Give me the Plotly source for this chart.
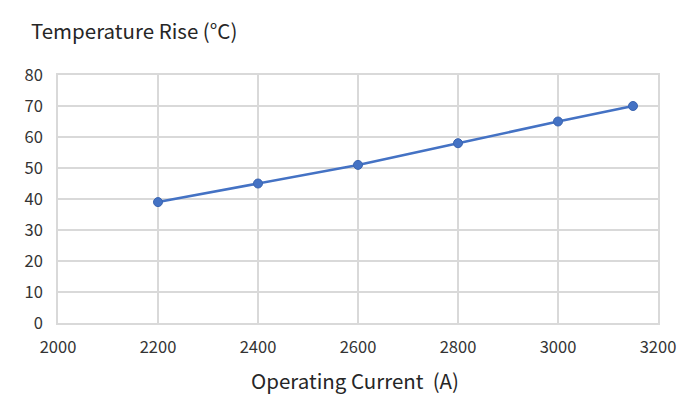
import plotly.graph_objects as go

current = [2200, 2400, 2600, 2800, 3000, 3150]
temp_rise = [39, 45, 51, 58, 65, 70]
x_ticks = [2000, 2200, 2400, 2600, 2800, 3000, 3200]
y_ticks = [0, 10, 20, 30, 40, 50, 60, 70, 80]

FONT = "Noto Sans CJK SC, Noto Sans, sans-serif"
fig = go.Figure()
fig.add_trace(go.Scatter(
    x=current, y=temp_rise, mode="lines+markers",
    line=dict(color="#4472C4", width=2.5),
    marker=dict(color="#4472C4", size=9, line=dict(color="#3A64B0", width=1)),
    showlegend=False,
))
fig.update_layout(
    width=700, height=400,
    margin=dict(l=58, r=42, t=75, b=77),
    paper_bgcolor="white", plot_bgcolor="white",
    font=dict(family=FONT, color="#404040", size=15),
    xaxis=dict(range=[2000, 3200], tickvals=x_ticks, showgrid=True,
               gridcolor="#D9D9D9", gridwidth=1.5, zeroline=False,
               showline=True, linecolor="#D9D9D9", linewidth=1.5, mirror=True,
               ticks="", ticklabelstandoff=8,
               tickfont=dict(size=16.5, color="#333333")),
    yaxis=dict(range=[0, 80], tickvals=y_ticks, showgrid=True,
               gridcolor="#D9D9D9", gridwidth=1.5, zeroline=False,
               showline=True, linecolor="#D9D9D9", linewidth=1.5, mirror=True,
               ticks="", ticklabelstandoff=10,
               tickfont=dict(size=16.5, color="#333333")),
    annotations=[
        dict(text="Temperature Rise (°C)", xref="paper", yref="paper",
             x=(29 - 58) / 600, y=1 + 45 / 248, xanchor="left", yanchor="middle",
             showarrow=False, font=dict(size=20.5, color="#262626", family=FONT)),
        dict(text="Operating Current  (A)", xref="paper", yref="paper",
             x=(355 - 58) / 600, y=-(380 - 323) / 248, xanchor="center", yanchor="middle",
             showarrow=False, font=dict(size=20.5, color="#262626", family=FONT)),
    ],
)
fig.write_html("out.html")
